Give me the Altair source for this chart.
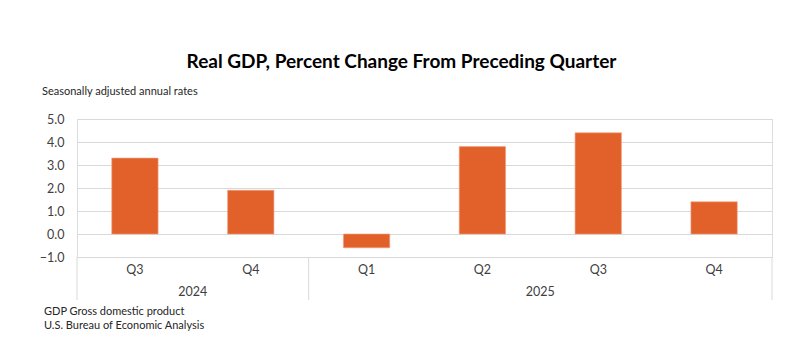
import altair as alt
import pandas as pd

quarters = ["Q3", "Q4", "Q1", "Q2", "Q3", "Q4"]
years = ["2024", "2024", "2025", "2025", "2025", "2025"]
values = [3.3, 1.9, -0.6, 3.8, 4.4, 1.4]

year_labels = ["2024", "2025"]
year_centers = [1.0, 4.0]
separators = [0, 2, 6]

y_ticks = [-1, 0, 1, 2, 3, 4, 5]

title_text = "Real GDP, Percent Change From Preceding Quarter"
subtitle_text = "Seasonally adjusted annual rates"
notes = ["GDP Gross domestic product", "U.S. Bureau of Economic Analysis"]

W, H = 695, 138
FONT = "Lato"
TEXT_COLOR = "#404040"
BAR_COLOR = "#E2612B"
GRID = "#d9d9d9"

df = pd.DataFrame({
    "idx": list(range(len(values))),
    "quarter": quarters,
    "year": years,
    "value": values,
})
df["x0"] = df["idx"] + 0.3
df["x1"] = df["idx"] + 0.7
df["xc"] = df["idx"] + 0.5

xscale = alt.Scale(domain=[0, 6], nice=False, zero=False)
yscale = alt.Scale(domain=[-1, 5], nice=False)

bars = alt.Chart(df).mark_bar(color=BAR_COLOR, stroke="#f0a080", strokeWidth=0.6).encode(
    x=alt.X("x0:Q", scale=xscale, axis=None),
    x2="x1:Q",
    y=alt.Y("value:Q", scale=yscale,
            axis=alt.Axis(values=y_ticks, format=".1f", title=None, grid=True,
                          gridColor=GRID, gridWidth=1, domain=False, ticks=False,
                          labelPadding=13, labelFontSize=12.5, labelColor=TEXT_COLOR,
                          labelFont=FONT)),
    y2=alt.datum(0),
)

q_labels = alt.Chart(df).mark_text(fontSize=12.5, font=FONT, color=TEXT_COLOR,
                                   baseline="middle").encode(
    x=alt.X("xc:Q", scale=xscale),
    y=alt.value(H + 13),
    text="quarter:N",
)

ydf = pd.DataFrame({"year": year_labels, "xc": year_centers})
y_text = alt.Chart(ydf).mark_text(fontSize=12.5, font=FONT, color=TEXT_COLOR,
                                  baseline="middle").encode(
    x=alt.X("xc:Q", scale=xscale),
    y=alt.value(H + 35),
    text="year:N",
)

sdf = pd.DataFrame({"s": separators})
seps = alt.Chart(sdf).mark_rule(color=GRID, strokeWidth=1).encode(
    x=alt.X("s:Q", scale=xscale),
    y=alt.value(H),
    y2=alt.value(H + 43),
)

sub = alt.Chart(pd.DataFrame({"t": [subtitle_text]})).mark_text(
    fontSize=11, font=FONT, color="#262626", align="left", baseline="middle"
).encode(x=alt.value(-35), y=alt.value(-27), text="t:N")

ndf = pd.DataFrame({"t": notes, "yy": [H + 55, H + 69]})
note_text = alt.Chart(ndf).mark_text(
    fontSize=11, font=FONT, color="#262626", align="left", baseline="middle"
).encode(x=alt.value(-33), y=alt.Y("yy:Q", scale=None), text="t:N")

chart = alt.layer(bars, seps, q_labels, y_text, sub, note_text).properties(
    width=W,
    height=H,
    title=alt.TitleParams(title_text, font=FONT, fontSize=19, fontWeight="bold",
                          color="#000000", anchor="middle", dx=-23, offset=14),
    autosize=alt.AutoSizeParams(type="none"),
    padding={"left": 69, "top": 111, "right": 10, "bottom": 90},
).configure_view(stroke=None).configure(background="white")

chart.save("out.html", embed_options={"renderer": "svg", "actions": False})
